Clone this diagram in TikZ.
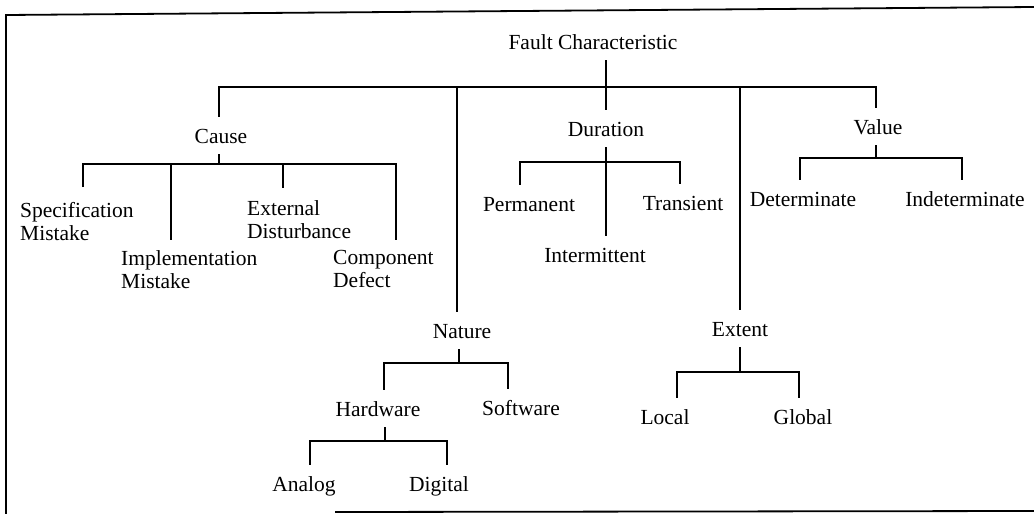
\documentclass[tikz,border=0pt]{standalone}
\usepackage{fontspec}
\setmainfont{Liberation Serif}
\begin{document}
\begin{tikzpicture}[x=1pt,y=-1pt,
  lbl/.style={font=\fontsize{21.5}{23.5}\selectfont, anchor=base,
    text height=17pt, text depth=2pt, inner ysep=9pt, inner xsep=0pt},
  multi/.style={font=\fontsize{21.5}{23.5}\selectfont, align=left,
    anchor=north west, inner sep=0pt},
  link/.style={line width=2.6pt, line join=miter},
  frame/.style={line width=1.8pt}]
\useasboundingbox (0,0) rectangle (1034,514);

% page frame
\draw[frame] (1034,7) -- (6,15) -- (6,514);
\draw[frame] (335,512) -- (1034,511);

% labels
\node[lbl] (root)  at (593,49)  {Fault Characteristic};
\node[lbl] (cause) at (221,143) {Cause};
\node[lbl] (duration) at (606,136) {Duration};
\node[lbl] (value) at (878,134) {Value};
\node[lbl] (nature) at (462,338) {Nature};
\node[lbl] (extent) at (740,336) {Extent};
\node[lbl] (permanent) at (529,211) {Permanent};
\node[lbl] (transient) at (683,210) {Transient};
\node[lbl] (intermittent) at (595,262) {Intermittent};
\node[lbl] (determinate) at (803,206) {Determinate};
\node[lbl] (indeterminate) at (965,206) {Indeterminate};
\node[lbl] (hardware) at (378,416) {Hardware};
\node[lbl] (software) at (521,415) {Software};
\node[lbl] (analog) at (304,491) {Analog};
\node[lbl] (digital) at (439,491) {Digital};
\node[lbl] (local) at (665,424) {Local};
\node[lbl] (global) at (803,424) {Global};
\node[multi] (spec) at (20,202) {Specification\\Mistake};
\node[multi] (impl) at (121,250) {Implementation\\Mistake};
\node[multi] (ext) at (247,200) {External\\Disturbance};
\node[multi] (comp) at (333,250) {Component\\Defect};

% junctions of the top level
\coordinate (r0) at (606,87);
\coordinate (rc) at (219,87);
\coordinate (rn) at (457,87);
\coordinate (re) at (740,87);
\coordinate (rv) at (876,87);
\draw[link] (cause.north -| rc) -- (rc) -- (rv) -- (value.north -| rv);
\draw[link] (root.south -| r0) -- (r0) -- (duration.north -| r0);
\draw[link] (rn) -- (nature.north -| rn);
\draw[link] (re) -- (extent.north -| re);

% cause
\coordinate (cj) at (219,164);
\coordinate (c1) at (83,164);
\coordinate (c2) at (171,164);
\coordinate (c3) at (283,164);
\coordinate (c4) at (396,164);
\coordinate (c1e) at (83,187);
\coordinate (c2e) at (171,240);
\coordinate (c3e) at (283,188);
\coordinate (c4e) at (396,240);
\draw[link] (cause.south -| cj) -- (cj);
\draw[link] (c1e) -- (c1) -- (c4) -- (c4e);
\draw[link] (c2) -- (c2e);
\draw[link] (c3) -- (c3e);

% duration
\coordinate (d0) at (606,162);
\coordinate (d1) at (520,162);
\coordinate (d2) at (680,162);
\draw[link] (permanent.north -| d1) -- (d1) -- (d2) -- (transient.north -| d2);
\draw[link] (duration.south -| d0) -- (intermittent.north -| d0);

% value
\coordinate (v0) at (876,158);
\coordinate (v1) at (800,158);
\coordinate (v2) at (962,158);
\draw[link] (value.south -| v0) -- (v0);
\draw[link] (determinate.north -| v1) -- (v1) -- (v2) -- (indeterminate.north -| v2);

% nature
\coordinate (n0) at (459,363);
\coordinate (n1) at (384,363);
\coordinate (n2) at (508,363);
\draw[link] (nature.south -| n0) -- (n0);
\draw[link] (hardware.north -| n1) -- (n1) -- (n2) -- (software.north -| n2);

% hardware
\coordinate (h0) at (385,441);
\coordinate (h1) at (310,441);
\coordinate (h2) at (447,441);
\draw[link] (hardware.south -| h0) -- (h0);
\draw[link] (analog.north -| h1) -- (h1) -- (h2) -- (digital.north -| h2);

% extent
\coordinate (e0) at (740,372);
\coordinate (e1) at (677,372);
\coordinate (e2) at (799,372);
\draw[link] (extent.south -| e0) -- (e0);
\draw[link] (local.north -| e1) -- (e1) -- (e2) -- (global.north -| e2);
\end{tikzpicture}
\end{document}
